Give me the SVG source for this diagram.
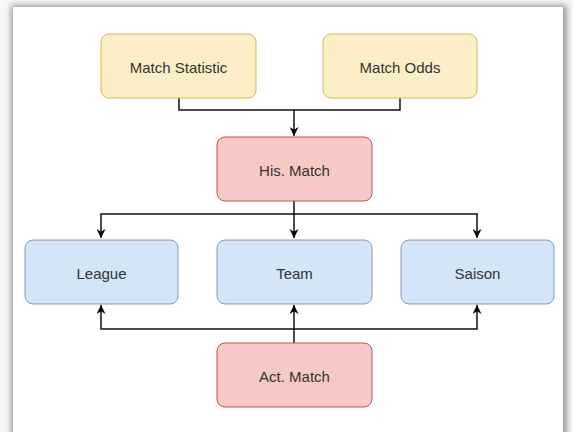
<svg xmlns="http://www.w3.org/2000/svg" width="573" height="432" viewBox="0 0 573 432">
<defs>
<filter id="sh" x="-5%" y="-5%" width="110%" height="110%"><feGaussianBlur stdDeviation="3"/></filter>
<marker id="arr" viewBox="0 0 10 10" refX="10" refY="5" markerWidth="9" markerHeight="9" markerUnits="userSpaceOnUse" orient="auto"><path d="M0,0 L10,5 L0,10 L3,5 Z" fill="#000"/></marker>
</defs>
<style>
.n{stroke-width:1}
.y{fill:#fcefc8;stroke:#d6b656}
.r{fill:#f6c9c7;stroke:#b85450}
.b{fill:#d4e5f7;stroke:#7c9cc8}
.t{font-family:"Liberation Sans",Arial,sans-serif;font-size:15px;fill:#333;text-anchor:middle;dominant-baseline:central}
.c{fill:none;stroke:#111;stroke-width:1.5}
</style>
<rect width="573" height="432" fill="#f7f7f7"/>
<rect x="11" y="5" width="556" height="440" fill="#9a9a9a" filter="url(#sh)"/>
<rect x="13" y="7" width="550" height="440" fill="#fff"/>
<g id="connectors">
<path class="c" d="M179,98 V110 H400 V98 M294,110 V136" marker-end="url(#arr)"/>
<path class="c" d="M294,201 V238" marker-end="url(#arr)"/>
<path class="c" d="M294,214 H101 V238" marker-end="url(#arr)"/>
<path class="c" d="M294,214 H477 V238" marker-end="url(#arr)"/>
<path class="c" d="M294,343 V305" marker-end="url(#arr)"/>
<path class="c" d="M294,329 H101 V305" marker-end="url(#arr)"/>
<path class="c" d="M294,329 H477 V305" marker-end="url(#arr)"/>
</g>
<g id="match-statistic"><rect class="n y" x="101" y="34" width="155" height="64" rx="8"/><text class="t" x="178.5" y="67">Match Statistic</text></g>
<g id="match-odds"><rect class="n y" x="323" y="34" width="154" height="64" rx="8"/><text class="t" x="400" y="67">Match Odds</text></g>
<g id="his-match"><rect class="n r" x="217" y="137" width="155" height="64" rx="8"/><text class="t" x="294.5" y="170">His. Match</text></g>
<g id="league"><rect class="n b" x="25" y="240" width="153" height="64" rx="8"/><text class="t" x="101.5" y="273">League</text></g>
<g id="team"><rect class="n b" x="217" y="240" width="155" height="64" rx="8"/><text class="t" x="294.5" y="273">Team</text></g>
<g id="saison"><rect class="n b" x="401" y="240" width="153" height="64" rx="8"/><text class="t" x="477.5" y="273">Saison</text></g>
<g id="act-match"><rect class="n r" x="217" y="343" width="155" height="64" rx="8"/><text class="t" x="294.5" y="376">Act. Match</text></g>
</svg>
